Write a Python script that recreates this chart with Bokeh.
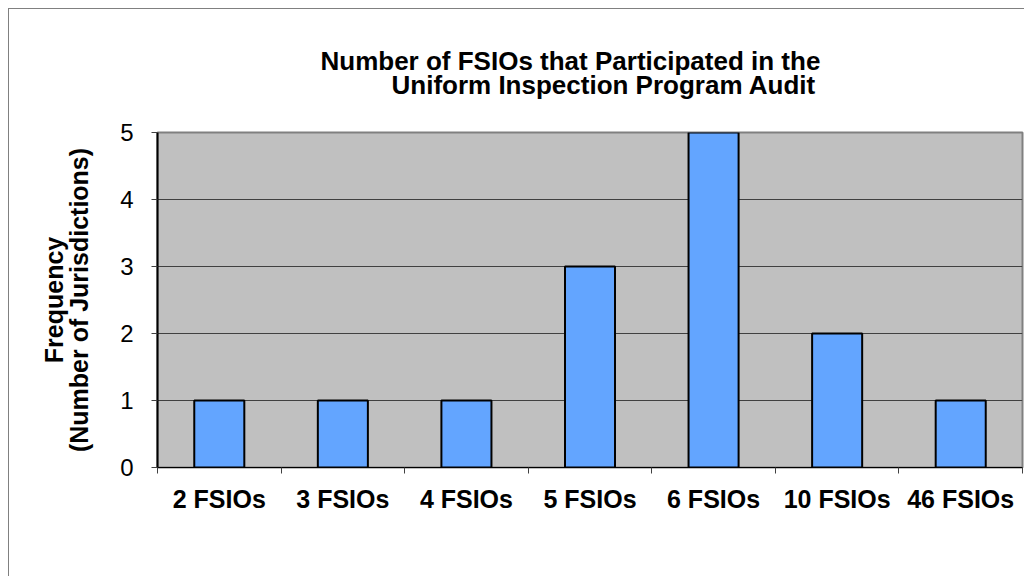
from bokeh.plotting import figure
from bokeh.models import FixedTicker, Range1d, ColumnDataSource, Title
from bokeh.embed import file_html
from bokeh.resources import INLINE

categories = ["2 FSIOs", "3 FSIOs", "4 FSIOs", "5 FSIOs", "6 FSIOs", "10 FSIOs", "46 FSIOs"]
frequency = [1, 1, 1, 3, 5, 2, 1]
y_ticks = [0, 1, 2, 3, 4, 5]
title_lines = ["Number of FSIOs that Participated in the", "Uniform Inspection Program Audit"]
y_title = "Frequency\n(Number of Jurisdictions)"

n = len(categories)
centers = [i + 0.5 for i in range(n)]
src = ColumnDataSource(dict(x=centers, top=frequency, cat=categories))

p = figure(output_backend="svg", toolbar_location=None,
           width=1015, height=567,
           frame_width=865, frame_height=335,
           min_border_left=148, min_border_top=123, min_border_right=2, min_border_bottom=109,
           x_range=Range1d(0, n), y_range=Range1d(0, 5))
p.styles = {"margin-left": "8px", "margin-top": "8px",
            "border-left": "1px solid #808080", "border-top": "1px solid #808080"}

p.background_fill_color = "#C0C0C0"
p.border_fill_color = "white"
p.outline_line_color = "#808080"
p.outline_line_width = 2

p.vbar(x="x", top="top", width=0.405, source=src, fill_color="#63A5FF",
       line_color="black", line_width=2)

# x axis
p.xaxis.ticker = FixedTicker(ticks=centers, minor_ticks=list(range(n + 1)))
p.xaxis.major_label_overrides = {c: lab for c, lab in zip(centers, categories)}
p.xaxis.major_tick_out = 0
p.xaxis.major_tick_in = 0
p.xaxis.minor_tick_out = 6
p.xaxis.minor_tick_in = 0
p.xaxis.minor_tick_line_color = "#404040"
p.xaxis.axis_line_color = "black"
p.xaxis.axis_line_width = 1
p.xaxis.major_label_text_font = "Liberation Sans"
p.xaxis.major_label_text_font_style = "bold"
p.xaxis.major_label_text_font_size = "25px"
p.xaxis.major_label_text_color = "black"
p.xaxis.major_label_standoff = 11

# y axis
p.yaxis.ticker = FixedTicker(ticks=y_ticks, minor_ticks=[])
p.yaxis.major_tick_out = 6
p.yaxis.major_tick_in = 0
p.yaxis.major_tick_line_color = "#404040"
p.yaxis.axis_line_color = "black"
p.yaxis.axis_line_width = 2
p.yaxis.major_label_text_font = "Liberation Sans"
p.yaxis.major_label_text_font_size = "24px"
p.yaxis.major_label_text_color = "black"
p.yaxis.major_label_standoff = 18
p.yaxis.axis_label = y_title
p.yaxis.axis_label_text_font = "Liberation Sans"
p.yaxis.axis_label_text_font_style = "bold"
p.yaxis.axis_label_text_font_size = "25px"
p.yaxis.axis_label_text_line_height = 0.9
p.yaxis.axis_label_text_color = "black"
p.yaxis.axis_label_standoff = 24

p.xgrid.grid_line_color = None
p.ygrid.grid_line_color = "#404040"
p.ygrid.grid_line_width = 1

# title (two lines, later-added line sits higher)
offsets = [163, 234]
standoffs = [-80, 65]
for t, off, so in reversed(list(zip(title_lines, offsets, standoffs))):
    p.add_layout(Title(text=t, align="left", offset=off, standoff=so,
                       text_font="Liberation Sans", text_font_style="bold",
                       text_font_size="26px", text_color="black"), "above")

open("out.html", "w").write(file_html(p, INLINE))
